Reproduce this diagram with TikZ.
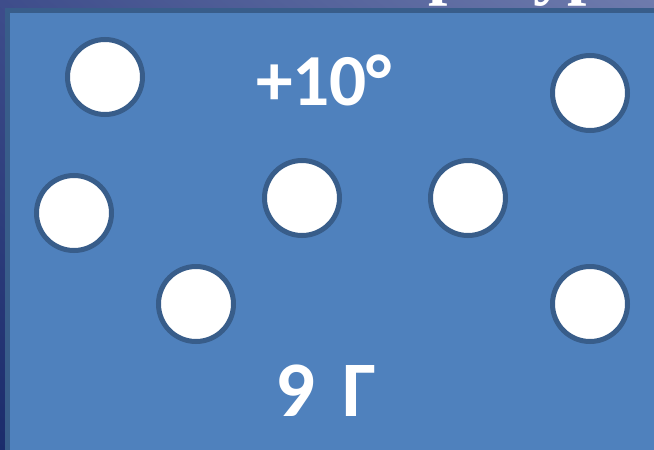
\documentclass[tikz,border=0pt]{standalone}
\usepackage{fontspec}
\usetikzlibrary{shadings}
\setmainfont{Carlito}
\newfontfamily\titlefont{Liberation Serif}
\definecolor{slidefill}{HTML}{4F81BD}
\definecolor{slideedge}{HTML}{385D8A}
\definecolor{bgtl}{HTML}{3E4D8B}
\definecolor{bgtr}{HTML}{6E7BAD}
\definecolor{bgbl}{HTML}{1B2C6B}
\definecolor{bgbr}{HTML}{3A4A88}
\newlength{\px}
\setlength{\px}{0.75pt}
\tikzset{
  dot/.style={circle, draw=slideedge, fill=white, line width=3.75pt, minimum size=75\px, inner sep=0pt},
  bigtext/.style={text=white, font=\fontsize{55}{60}\selectfont\bfseries, inner sep=0pt},
}
\begin{document}
\begin{tikzpicture}[x=0.75pt, y=-0.75pt]
\useasboundingbox (0,0) rectangle (654,450);
\clip (0,0) rectangle (654,450);
\shade[upper left=bgtl, upper right=bgtr, lower left=bgbl, lower right=bgbr] (0,0) rectangle (654,450);
% title, mostly above the visible area (cut off as in the reference)
\node[anchor=base west, text=white, font=\titlefont\fontsize{52}{56}\selectfont\bfseries, inner sep=0pt] (title) at (236,-9) {Температура};
\draw[slideedge, fill=slidefill, line width=3.75pt] (7.5,10) rectangle (680,480);
\node[dot] (c1) at (105,77) {};
\node[dot] (c2) at (590,93) {};
\node[dot] (c3) at (74,213) {};
\node[dot] (c4) at (302,198) {};
\node[dot] (c5) at (468,198) {};
\node[dot] (c6) at (196,304) {};
\node[dot] (c7) at (590,304) {};
\node[bigtext] (temp) at (324,80) {+10°};
\node[bigtext, font=\fontsize{59}{64}\selectfont\bfseries] (mass) at (326,391) {9\hspace{7pt} Г};
\end{tikzpicture}
\end{document}
